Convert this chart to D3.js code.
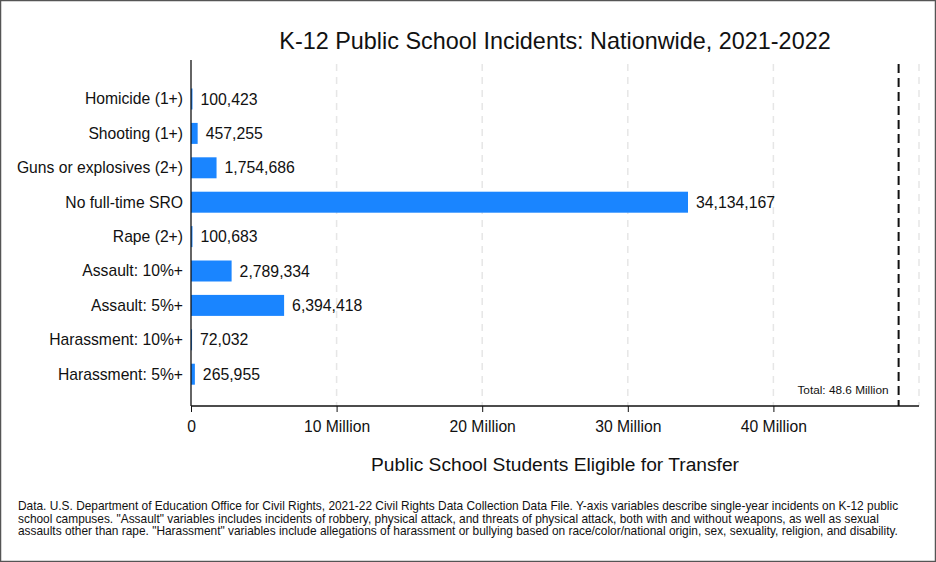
<!DOCTYPE html>
<html>
<head>
<meta charset="utf-8">
<script src="https://cdn.jsdelivr.net/npm/d3@7"></script>
<style>
body { margin: 0; background: #fff; }
svg { display: block; font-family: "Liberation Sans", Arial, sans-serif; }
</style>
</head>
<body>
<div id="chart"></div>
<script>
var width = 936,
		height = 562;

// data
var categories = ['Homicide (1+)', 'Shooting (1+)', 'Guns or explosives (2+)', 'No full-time SRO',
	'Rape (2+)', 'Assault: 10%+', 'Assault: 5%+', 'Harassment: 10%+', 'Harassment: 5%+'];
var students = [100423, 457255, 1754686, 34134167, 100683, 2789334, 6394418, 72032, 265955];
var tickValues = [0, 10e6, 20e6, 30e6, 40e6];
var tickLabels = ['0', '10 Million', '20 Million', '30 Million', '40 Million'];
var gridValues = [10e6, 20e6, 30e6, 40e6, 50e6];
var total = 48.6e6;

var noteLines = [
	'Data. U.S. Department of Education Office for Civil Rights, 2021-22 Civil Rights Data Collection Data File. Y-axis variables describe single-year incidents on K-12 public',
	'school campuses. "Assault" variables includes incidents of robbery, physical attack, and threats of physical attack, both with and without weapons, as well as sexual',
	'assaults other than rape. "Harassment" variables include allegations of harassment or bullying based on race/color/national origin, sex, sexuality, religion, and disability.'
];

var svg = d3.select('#chart').append('svg')
	.attr('width', width)
	.attr('height', height);

// outer frame
svg.append('rect')
	.attr('x', 0.5).attr('y', 0.5)
	.attr('width', width - 1).attr('height', height - 1)
	.attr('fill', '#fff')
	.attr('stroke', '#555')
	.attr('stroke-width', 1.5);

var x = d3.scaleLinear()
	.domain([0, 50e6])
	.range([191, 919]);

var y = d3.scaleBand()
	.domain(categories)
	.range([81.8, 391.4])
	.paddingInner(0.39)
	.paddingOuter(0.195);

var plotTop = 64, plotBottom = 406;

// grid
svg.append('g').selectAll('line')
	.data(gridValues)
	.join('line')
	.attr('x1', d => x(d)).attr('x2', d => x(d))
	.attr('y1', plotTop).attr('y2', plotBottom)
	.attr('stroke', '#e6e6e6')
	.attr('stroke-width', 1.5)
	.attr('stroke-dasharray', '7,6');

// bars
svg.append('g').selectAll('rect')
	.data(students)
	.join('rect')
	.attr('x', x(0))
	.attr('y', (d, i) => y(categories[i]))
	.attr('width', d => x(d) - x(0))
	.attr('height', y.bandwidth())
	.attr('fill', '#1a85ff');

// value labels
svg.append('g').selectAll('text')
	.data(students)
	.join('text')
	.attr('x', d => x(d) + 8)
	.attr('y', (d, i) => y(categories[i]) + y.bandwidth() / 2)
	.attr('dy', '0.35em')
	.attr('font-size', 15.8)
	.attr('fill', '#111')
	.text(d => d3.format(',')(d));

// category labels
svg.append('g').selectAll('text')
	.data(categories)
	.join('text')
	.attr('x', 183)
	.attr('y', d => y(d) + y.bandwidth() / 2)
	.attr('dy', '0.35em')
	.attr('text-anchor', 'end')
	.attr('font-size', 15.7)
	.attr('fill', '#111')
	.text(d => d);

// total line
svg.append('line')
	.attr('x1', x(total)).attr('x2', x(total))
	.attr('y1', plotTop).attr('y2', plotBottom)
	.attr('stroke', '#111')
	.attr('stroke-width', 2)
	.attr('stroke-dasharray', '9,5');

svg.append('text')
	.attr('x', x(total) - 10)
	.attr('y', 394)
	.attr('text-anchor', 'end')
	.attr('font-size', 11.8)
	.attr('fill', '#111')
	.text('Total: 48.6 Million');

// axes
var xAxis = d3.axisBottom(x)
	.tickValues(tickValues)
	.tickFormat((d, i) => tickLabels[i])
	.tickSize(6)
	.tickPadding(9);

var gx = svg.append('g')
	.attr('transform', 'translate(0,' + plotBottom + ')')
	.call(xAxis);
gx.select('.domain').attr('d', 'M' + x(0) + ',0H' + x(50e6)).attr('stroke', '#111').attr('stroke-width', 1.3);
gx.selectAll('.tick line').attr('stroke', '#111');
gx.selectAll('.tick text').attr('font-size', 15.7).attr('fill', '#111')
	.attr('font-family', '"Liberation Sans", Arial, sans-serif');

svg.append('line')
	.attr('x1', x(0)).attr('x2', x(0))
	.attr('y1', 60).attr('y2', plotBottom)
	.attr('stroke', '#111')
	.attr('stroke-width', 1.3);

// titles
svg.append('text')
	.attr('x', 555)
	.attr('y', 49)
	.attr('text-anchor', 'middle')
	.attr('font-size', 23.4)
	.attr('fill', '#111')
	.text('K-12 Public School Incidents: Nationwide, 2021-2022');

svg.append('text')
	.attr('x', 555)
	.attr('y', 471)
	.attr('text-anchor', 'middle')
	.attr('font-size', 19.2)
	.attr('fill', '#111')
	.text('Public School Students Eligible for Transfer');

svg.append('g').selectAll('text')
	.data(noteLines)
	.join('text')
	.attr('x', 18)
	.attr('y', (d, i) => 510 + i * 12.7)
	.attr('font-size', 11.9)
	.attr('fill', '#111')
	.text(d => d);
</script>
</body>
</html>
